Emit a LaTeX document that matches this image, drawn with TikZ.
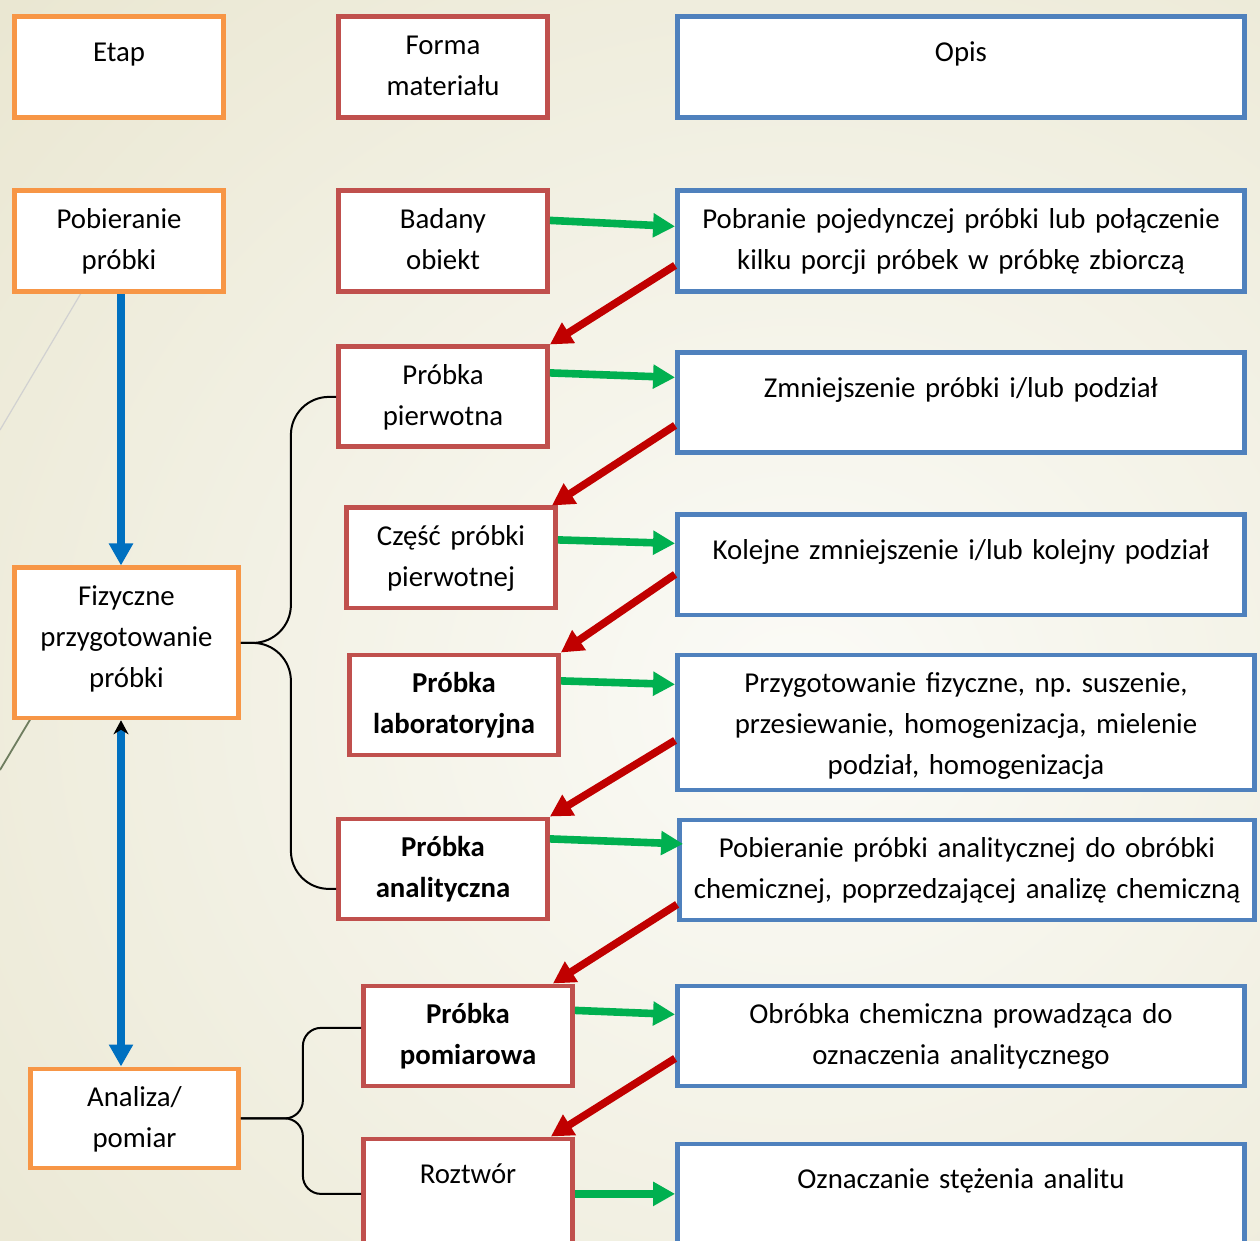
\documentclass[tikz,border=0pt]{standalone}
\usepackage{fontspec}
\setmainfont{Carlito}
\usetikzlibrary{arrows.meta}
\definecolor{etaporange}{RGB}{247,150,70}
\definecolor{formred}{RGB}{192,80,77}
\definecolor{opisblue}{RGB}{79,129,189}
\definecolor{arrgreen}{RGB}{0,176,80}
\definecolor{arrred}{RGB}{192,0,0}
\definecolor{arrblue}{RGB}{0,112,192}
\definecolor{bgcream}{RGB}{234,231,210}
\definecolor{bglight}{RGB}{251,251,247}
\definecolor{decoline}{RGB}{110,125,95}

\tikzset{
  box/.style={draw, fill=white, line width=2.4pt, align=center, anchor=north,
    inner xsep=0pt, inner ysep=0pt, font=\fontsize{14.4}{20.5}\selectfont},
  etapbox/.style={box, draw=etaporange},
  formbox/.style={box, draw=formred},
  opisbox/.style={box, draw=opisblue},
  boldbox/.style={formbox, font=\fontsize{14.4}{20.5}\selectfont\bfseries},
  multi/.style={text height=18.75pt, text depth=#1},
  single/.style={text height=22.25pt, text depth=#1},
  greenarrow/.style={draw=arrgreen, line width=3.8pt, -{Triangle[length=11pt,width=11.5pt]}},
  redarrow/.style={draw=arrred, line width=3.8pt, -{Triangle[length=11pt,width=11.5pt]}},
  bluearrow/.style={draw=arrblue, line width=3.8pt, -{Triangle[length=11pt,width=11.5pt]}},
  braceline/.style={draw=black, line width=1pt}
}

\begin{document}
\begin{tikzpicture}[x=0.5pt, y=-0.5pt]
  \useasboundingbox (0,0) rectangle (1260,1241);
  % background
  \begin{scope}
    \clip (0,0) rectangle (1260,1241);
    \shade[inner color=bglight, outer color=bgcream] (-300,-300) rectangle (1900,1700);
    \draw[black!18, line width=0.6pt] (0,430) -- (90,278);
    \draw[decoline, line width=0.9pt] (0,770) -- (40,703);
  \end{scope}

  % column: Etap
  \node[etapbox, single=28.25pt, text width=104.5pt] (etap) at (119,14.5) {Etap};
  \node[etapbox, multi=31.75pt, text width=104.5pt] (pobier) at (119,188.5) {Pobieranie\\próbki};
  \node[etapbox, multi=56.25pt, text width=112pt] (fizycz) at (126.5,565.5) {Fizyczne\\przygotowanie\\próbki};
  \node[etapbox, multi=30.75pt, text width=104pt] (analiza) at (134.5,1066.5) {Analiza/\\pomiar};

  % column: Forma materialu
  \node[formbox, multi=31.75pt, text width=104.5pt] (forma) at (443,14.5) {Forma\\materiału};
  \node[formbox, multi=31.75pt, text width=104.5pt] (badany) at (443,188.5) {Badany\\obiekt};
  \node[formbox, multi=31.25pt, text width=104.5pt] (pierw) at (443,344.5) {Próbka\\pierwotna};
  \node[formbox, multi=31.25pt, text width=104.5pt] (czesc) at (451,505.5) {Część próbki\\pierwotnej};
  \node[boldbox, multi=31.25pt, text width=104.5pt] (labor) at (454,652.5) {Próbka\\laboratoryjna};
  \node[boldbox, multi=31.25pt, text width=104.5pt] (analit) at (443,816.5) {Próbka\\analityczna};
  \node[boldbox, multi=31.25pt, text width=104.5pt] (pomiar) at (468,983.5) {Próbka\\pomiarowa};
  \node[formbox, single=32.75pt, text width=104.5pt] (roztw) at (468,1136.5) {Roztwór};

  % column: Opis
  \node[opisbox, single=28.25pt, text width=283.5pt] (opis) at (961,14.5) {Opis};
  \node[opisbox, multi=31.75pt, text width=283.5pt] (pobr) at (961,188.5) {Pobranie pojedynczej próbki lub połączenie\\kilku porcji próbek w próbkę zbiorczą};
  \node[opisbox, single=27.75pt, text width=283.5pt] (zmniej) at (961,350.5) {Zmniejszenie próbki i/lub podział};
  \node[opisbox, single=27.75pt, text width=283.5pt] (kolej) at (961,512.5) {Kolejne zmniejszenie i/lub kolejny podział};
  \node[opisbox, multi=48.75pt, text width=288.5pt] (przyg) at (966,652.5) {Przygotowanie fizyczne, np.\ suszenie,\\przesiewanie, homogenizacja, mielenie\\podział, homogenizacja};
  \node[opisbox, multi=31.25pt, text width=287.5pt] (pobanal) at (967,817.5) {Pobieranie próbki analitycznej do obróbki\\chemicznej, poprzedzającej analizę chemiczną};
  \node[opisbox, multi=31.25pt, text width=283.5pt] (obrob) at (961,983.5) {Obróbka chemiczna prowadząca do\\oznaczenia analitycznego};
  \node[opisbox, single=32.75pt, text width=283.5pt] (oznacz) at (961,1141.5) {Oznaczanie stężenia analitu};

  % stages
  \draw[bluearrow] ([xshift=1pt]pobier.south) -- ([xshift=1pt]pobier.south |- fizycz.north);
  \draw[bluearrow, {Stealth[black,length=7pt,width=7.5pt]}-{Triangle[length=11pt,width=11.5pt]}]
    ([xshift=1pt]pobier.south |- fizycz.south) -- ([xshift=1pt]pobier.south |- analiza.north);

  % braces
  \draw[braceline, rounded corners=19pt] (fizycz.east) -- ++(50,0) |- (pierw.west);
  \draw[braceline, rounded corners=19pt] (fizycz.east) -- ++(50,0) |- ([yshift=-10pt]analit.west);
  \draw[braceline, rounded corners=9pt] (analiza.east) -- ++(62,0) |- ([yshift=4pt]pomiar.west);
  \draw[braceline, rounded corners=9pt] (analiza.east) -- ++(62,0) |- (roztw.west);

  % material -> description
  \draw[greenarrow] ([yshift=10.5pt]badany.east) -- ([yshift=7.5pt]pobr.west);
  \draw[greenarrow] ([yshift=12pt]pierw.east) -- ([yshift=12.75pt]zmniej.west);
  \draw[greenarrow] ([yshift=9pt]czesc.east) -- ([yshift=10.75pt]kolej.west);
  \draw[greenarrow] ([yshift=12pt]labor.east) -- ([yshift=19pt]przyg.west);
  \draw[greenarrow] ([yshift=15pt]analit.east) -- ([yshift=13pt,xshift=3pt]pobanal.west);
  \draw[greenarrow] ([yshift=12.75pt]pomiar.east) -- ([yshift=10.75pt]obrob.west);
  \draw[greenarrow] (roztw.east) -- (roztw.east -| oznacz.west);

  % description -> next material
  \draw[redarrow] ([yshift=-12pt]pobr.west) -- (pierw.north east);
  \draw[redarrow] ([yshift=-11.25pt]zmniej.west) -- ([xshift=-3pt]czesc.north east);
  \draw[redarrow] ([yshift=-4.75pt]kolej.west) -- (labor.north east);
  \draw[redarrow] ([yshift=-9pt]przyg.west) -- (analit.north east);
  \draw[redarrow] ([yshift=-17.25pt]pobanal.west) -- ([xshift=-11pt]pomiar.north east);
  \draw[redarrow] ([yshift=-11.25pt]obrob.west) -- ([xshift=-12pt]roztw.north east);
\end{tikzpicture}
\end{document}
